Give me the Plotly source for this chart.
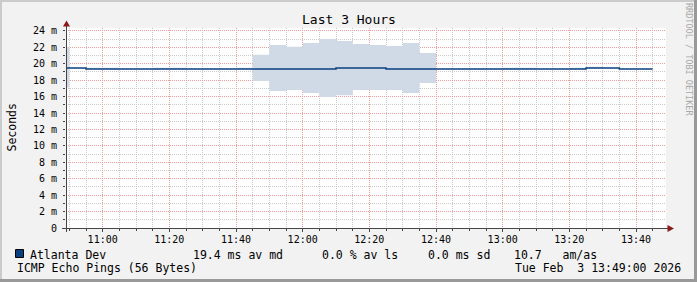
import plotly.graph_objects as go

# ---------------- data ----------------
DAY = "2026-02-03 "
slot_start = ["10:45", "10:50", "10:55", "11:00", "11:05", "11:10", "11:15", "11:20",
              "11:25", "11:30", "11:35", "11:40", "11:45", "11:50", "11:55", "12:00",
              "12:05", "12:10", "12:15", "12:20", "12:25", "12:30", "12:35", "12:40",
              "12:45", "12:50", "12:55", "13:00", "13:05", "13:10", "13:15", "13:20",
              "13:25", "13:30", "13:35", "13:40"]
slot_end = "13:45"
median_ms = [19.47, 19.47, 19.35, 19.35, 19.35, 19.35, 19.35, 19.35,
             19.35, 19.35, 19.35, 19.35, 19.35, 19.35, 19.35, 19.35,
             19.35, 19.47, 19.47, 19.47, 19.35, 19.35, 19.35, 19.35,
             19.35, 19.35, 19.35, 19.35, 19.35, 19.35, 19.35, 19.35,
             19.47, 19.47, 19.35, 19.35]
smoke_lo = [17.10, 19.47, 19.35, 19.35, 19.35, 19.35, 19.35, 19.35,
            19.35, 19.35, 19.35, 19.35, 17.90, 16.69, 16.81, 16.44,
            15.95, 16.16, 16.81, 16.81, 16.81, 16.44, 17.66, 19.35,
            19.35, 19.35, 19.35, 19.35, 19.35, 19.35, 19.35, 19.35,
            19.47, 19.47, 19.35, 19.35]
smoke_hi = [22.00, 19.47, 19.50, 19.50, 19.35, 19.35, 19.50, 19.50,
            19.35, 19.35, 19.35, 19.50, 21.09, 22.28, 22.07, 22.52,
            23.01, 22.77, 22.40, 22.28, 22.15, 22.52, 21.30, 19.35,
            19.35, 19.35, 19.35, 19.50, 19.50, 19.35, 19.35, 19.50,
            19.62, 19.47, 19.35, 19.35]
y_tick_vals = [0, 2, 4, 6, 8, 10, 12, 14, 16, 18, 20, 22, 24]
y_tick_text = ["0", "2 m", "4 m", "6 m", "8 m", "10 m", "12 m", "14 m", "16 m",
               "18 m", "20 m", "22 m", "24 m"]
title_text = "Last 3 Hours"
y_title = "Seconds"
series_name = "Atlanta Dev"
stat_texts = ["19.4 ms av md", "0.0 % av ls", "0.0 ms sd", "10.7   am/as"]
footer_left = "ICMP Echo Pings (56 Bytes)"
footer_right = "Tue Feb  3 13:49:00 2026"
watermark = "RRDTOOL / TOBI OETIKER"

# ---------------- layout constants ----------------
W, H = 697, 282
L, R, T, B = 66, 31, 28, 54
PW, PH = W - L - R, H - T - B
MONO = "DejaVu Sans Mono"
BG = "#f2f2f2"
LINE_C = "#0a4080"
SMOKE_C = "#cfdae6"
ARROW_C = "#8b1a1a"
AXIS_C = "#454545"


def px_x(p):
    return (p - L) / PW


def px_y(p):
    return (H - B - p) / PH


xs = [DAY + t for t in slot_start] + [DAY + slot_end]
med = median_ms + [median_ms[-1]]
lo = smoke_lo + [smoke_lo[-1]]
hi = smoke_hi + [smoke_hi[-1]]

fig = go.Figure()
fig.add_trace(go.Scatter(x=xs, y=lo, mode="lines", line=dict(width=0, shape="hv"),
                         hoverinfo="skip", showlegend=False))
fig.add_trace(go.Scatter(x=xs, y=hi, mode="lines", line=dict(width=0, shape="hv"),
                         fill="tonexty", fillcolor=SMOKE_C, hoverinfo="skip", showlegend=False))
fig.add_trace(go.Scatter(x=xs, y=med, mode="lines", line=dict(width=1.5, shape="hv", color=LINE_C),
                         name=series_name, showlegend=False))

grid_red = "#ee9d9d"
grid_gray = "#cbcbcb"

fig.update_xaxes(
    type="date",
    range=[DAY + "10:49:00", DAY + "13:49:00"],
    tick0=DAY + "11:00:00", dtick=20 * 60 * 1000, tickformat="%H:%M",
    showgrid=True, gridcolor=grid_red, gridwidth=1, griddash="1px,1px",
    minor=dict(dtick=5 * 60 * 1000, tick0=DAY + "11:00:00", showgrid=True,
               gridcolor=grid_gray, gridwidth=1, griddash="1px,1px",
               ticks="outside", ticklen=2, tickcolor=AXIS_C),
    ticks="outside", ticklen=3, tickcolor=AXIS_C,
    showline=False, zeroline=False,
    tickfont=dict(family=MONO, size=10, color="#000000"),
    ticklabelstandoff=-1,
    fixedrange=True,
)
fig.update_yaxes(
    range=[0, 24.35],
    tickvals=y_tick_vals, ticktext=y_tick_text,
    showgrid=True, gridcolor=grid_red, gridwidth=1, griddash="1px,1px",
    minor=dict(dtick=1, tick0=0, showgrid=True, gridcolor=grid_gray, gridwidth=1,
               griddash="1px,1px", ticks="outside", ticklen=2, tickcolor=AXIS_C),
    ticks="outside", ticklen=2, tickcolor=AXIS_C,
    showline=False, zeroline=False,
    tickfont=dict(family=MONO, size=10, color="#000000"),
    ticklabelstandoff=4,
    fixedrange=True,
)

shapes = []
# frame (3D border)
shapes.append(dict(type="rect", xref="paper", yref="paper", x0=px_x(0), x1=px_x(W), y0=px_y(0), y1=px_y(2),
                   fillcolor="#cbcbcb", line=dict(width=0), layer="below"))
shapes.append(dict(type="rect", xref="paper", yref="paper", x0=px_x(0), x1=px_x(2), y0=px_y(0), y1=px_y(H),
                   fillcolor="#cbcbcb", line=dict(width=0), layer="below"))
shapes.append(dict(type="rect", xref="paper", yref="paper", x0=px_x(0), x1=px_x(W), y0=px_y(H - 3), y1=px_y(H),
                   fillcolor="#999999", line=dict(width=0), layer="below"))
shapes.append(dict(type="rect", xref="paper", yref="paper", x0=px_x(W - 3), x1=px_x(W), y0=px_y(0), y1=px_y(H),
                   fillcolor="#999999", line=dict(width=0), layer="below"))
# axes lines
shapes.append(dict(type="line", xref="paper", yref="paper", x0=px_x(62), x1=px_x(669),
                   y0=px_y(228.5), y1=px_y(228.5), line=dict(color=AXIS_C, width=1)))
shapes.append(dict(type="line", xref="paper", yref="paper", x0=px_x(66.5), x1=px_x(66.5),
                   y0=px_y(232), y1=px_y(25), line=dict(color=AXIS_C, width=1)))
# arrows
shapes.append(dict(type="path", xref="paper", yref="paper",
                   path="M %f %f L %f %f L %f %f Z" % (px_x(63), px_y(26.5), px_x(66.5), px_y(20.5), px_x(70), px_y(26.5)),
                   fillcolor=ARROW_C, line=dict(width=0)))
shapes.append(dict(type="path", xref="paper", yref="paper",
                   path="M %f %f L %f %f L %f %f Z" % (px_x(667.5), px_y(225), px_x(674), px_y(228.5), px_x(667.5), px_y(232)),
                   fillcolor=ARROW_C, line=dict(width=0)))
# legend square
shapes.append(dict(type="rect", xref="paper", yref="paper", x0=px_x(15.5), x1=px_x(23.5),
                   y0=px_y(257.5), y1=px_y(249.5), fillcolor=LINE_C, line=dict(color="#000000", width=1)))

F = dict(family=MONO, size=11.5, color="#000000")


def ann(text, x, y, xanchor="left", font=F, angle=0):
    return dict(text=text, x=px_x(x), y=px_y(y), xref="paper", yref="paper", xanchor=xanchor,
                yanchor="middle", showarrow=False, font=font, textangle=angle, borderpad=0, borderwidth=0)


annotations = [
    ann(title_text, 348.5, 19, "center", dict(family=MONO, size=13, color="#000000")),
    ann(y_title, 11.5, 128, "center", F, -90),
    ann(watermark, 689, 59, "center", dict(family=MONO, size=8.5, color="#a8a8a8"), 90),
    ann(series_name, 30, 254.5),
    ann(stat_texts[0], 193.3, 254.5),
    ann(stat_texts[1], 321.7, 254.5),
    ann(stat_texts[2], 428.3, 254.5),
    ann(stat_texts[3], 514, 254.5),
    ann(footer_left, 16.5, 268),
    ann(footer_right, 680.5, 268, "right"),
]

fig.update_layout(
    width=W, height=H, margin=dict(l=L, r=R, t=T, b=B, pad=0),
    paper_bgcolor=BG, plot_bgcolor="#ffffff",
    shapes=shapes, annotations=annotations, showlegend=False,
    font=dict(family=MONO),
)
fig.write_html("out.html", config=dict(displayModeBar=False))
